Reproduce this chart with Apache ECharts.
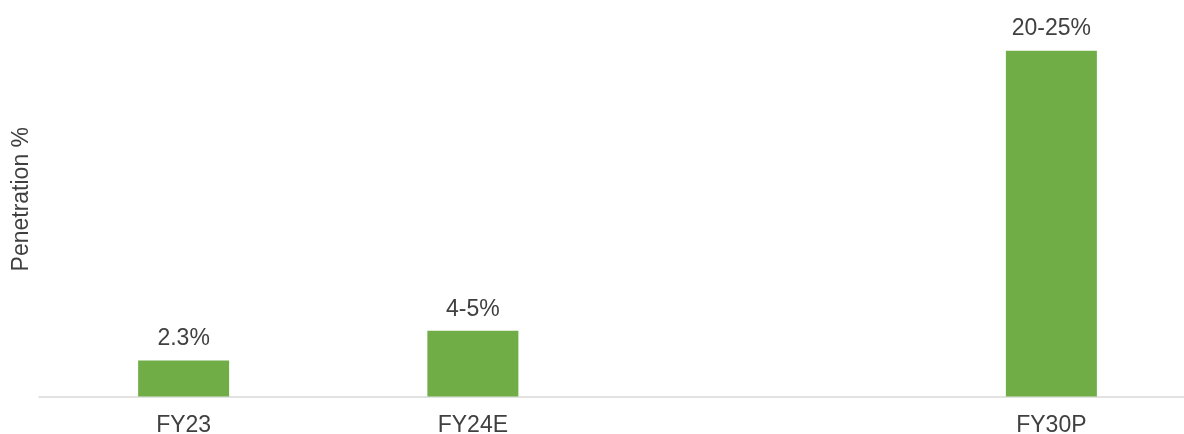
<!DOCTYPE html>
<html>
<head>
<meta charset="utf-8">
<script src="https://cdn.jsdelivr.net/npm/echarts@6/dist/echarts.min.js"></script>
<style>
html,body{margin:0;padding:0;background:#fff;}
#c{width:1184px;height:434px;}
</style>
</head>
<body>
<div id="c"></div>
<script>
const categories = ['FY23', 'FY24E', '', 'FY30P'];
const values = [2.3, 4.2, null, 22.1];
const valueLabels = ['2.3%', '4-5%', '', '20-25%'];
const yAxisTitle = 'Penetration %';

const FONT = 'Liberation Sans, Arial, sans-serif';
const chart = echarts.init(document.getElementById('c'), null, {renderer: 'canvas'});
chart.setOption({
  animation: false,
  backgroundColor: '#ffffff',
  grid: {left: 39, width: 1157, top: 20.9, bottom: 37.5, containLabel: false, outerBoundsMode: 'none'},
  xAxis: {
    type: 'category',
    data: categories,
    axisLine: {show: true, lineStyle: {color: '#d9d9d9', width: 1.5}},
    axisTick: {show: false},
    axisLabel: {color: '#404040', fontSize: 23, fontFamily: FONT, margin: 18},
    splitLine: {show: false}
  },
  yAxis: {
    type: 'value',
    min: 0,
    max: 24,
    name: yAxisTitle,
    nameLocation: 'middle',
    nameRotate: 90,
    nameGap: 5.5,
    nameTextStyle: {color: '#404040', fontSize: 23, fontFamily: FONT, padding: [0, 0, 0, 19]},
    axisLine: {show: false},
    axisTick: {show: false},
    axisLabel: {show: false},
    splitLine: {show: false}
  },
  series: [{
    type: 'bar',
    data: values,
    barWidth: 91,
    itemStyle: {color: '#70ad47'},
    label: {
      show: true,
      position: 'top',
      distance: 10,
      color: '#404040',
      fontSize: 23,
      fontFamily: FONT,
      formatter: p => valueLabels[p.dataIndex]
    }
  }]
});
</script>
</body>
</html>
